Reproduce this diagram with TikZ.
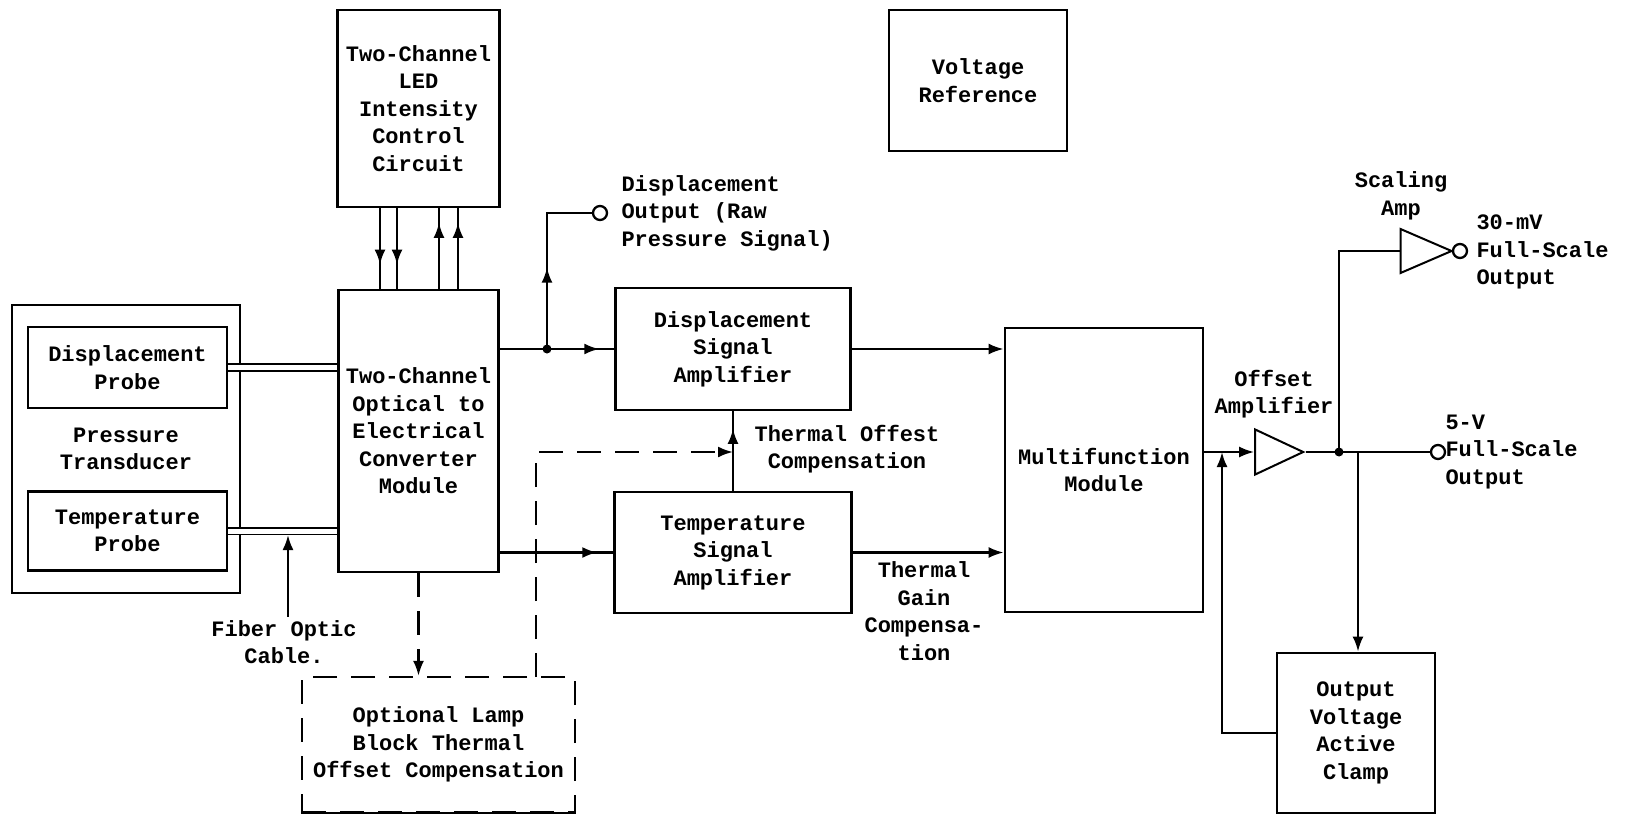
\documentclass[tikz,border=0pt]{standalone}
\usepackage{fontspec}
\setmonofont{Liberation Mono}
\usepackage{tikz}
\usetikzlibrary{arrows.meta,decorations.markings,shapes.geometric}
\newcommand{\tw}{\fontsize{22}{27.5}\selectfont\ttfamily\bfseries}
\tikzset{
  blk/.style     = {draw,line width=2.8pt,inner sep=0pt,align=center},
  sig/.style     = {line width=2.3pt},
  arr/.style     = {sig,-{Latex[length=15pt,width=11pt]}},
  arrowat/.style = {sig,postaction={decorate},
                    decoration={markings,mark=at position #1 with {\arrow{Latex[length=15pt,width=11pt]}}}},
  dsh/.style     = {sig,dash pattern=on 24pt off 14pt},
  pin/.style     = {draw,circle,line width=2.3pt,minimum size=14pt,inner sep=0pt},
  amp/.style     = {draw,isosceles triangle,isosceles triangle stretches,line width=2pt,inner sep=0pt},
  lbl/.style     = {align=center}
}
\newcommand{\dotat}[1]{\fill (#1) circle (4.5pt);}

\begin{document}
\begin{tikzpicture}[x=1pt,y=-1pt,font=\tw]
  \useasboundingbox (0,0) rectangle (1634,816);
  \node[blk,minimum width=162pt,minimum height=197pt] (led) at (418.5,108.5) {Two-Channel\\LED\\Intensity\\Control\\Circuit};
  \node[blk,minimum width=160pt,minimum height=282pt] (conv) at (418.5,431) {Two-Channel\\Optical to\\Electrical\\Converter\\Module};
  \node[blk,minimum width=228pt,minimum height=288pt] (xdcr) at (126,449) {Pressure\\Transducer};
  \node[blk,fill=white,minimum width=199pt,minimum height=81pt] (dprobe) at (127.5,367.5) {Displacement\\Probe};
  \node[blk,fill=white,minimum width=199pt,minimum height=79pt] (tprobe) at (127.5,531) {Temperature\\Probe};
  \node[blk,minimum width=235pt,minimum height=122pt] (damp) at (733,349) {Displacement\\Signal\\Amplifier};
  \node[blk,minimum width=237pt,minimum height=121pt] (tamp) at (733,552.5) {Temperature\\Signal\\Amplifier};
  \node[blk,minimum width=198pt,minimum height=284pt] (multi) at (1104,470) {Multifunction\\Module};
  \node[blk,minimum width=178pt,minimum height=141pt] (vref) at (978,80.5) {Voltage\\Reference};
  \node[blk,minimum width=158pt,minimum height=160pt] (clamp) at (1356,733) {Output\\Voltage\\Active\\Clamp};
  \node[blk,dsh,minimum width=273pt,minimum height=135pt] (lamp) at (438.5,744.5) {Optional Lamp\\Block Thermal\\Offset Compensation};
  \node[amp,minimum width=45pt,minimum height=48pt] (offamp) at (1269.5,452) {};
  \node[amp,minimum width=44pt,minimum height=51pt] (sclamp) at (1415,251) {};
  \node[pin] (dout) at (600,213) {};
  \node[pin] (mvout) at (1460,251) {};
  \node[pin] (vout) at (1438,452) {};

  \node[lbl,anchor=west,align=left] (douttxt) at (618,213) {Displacement\\Output (Raw\\Pressure Signal)};
  \node[lbl] (offtxt) at (847,449) {Thermal Offest\\Compensation};
  \node[lbl] (gaintxt) at (924,611) {Thermal\\Gain\\Compensa-\\tion};
  \node[lbl] (fibtxt) at (284,642) {Fiber Optic\\Cable.};
  \node[lbl] (offamptxt) at (1274,394) {Offset\\Amplifier};
  \node[lbl] (sclamptxt) at (1401,196) {Scaling\\Amp};
  \node[lbl,anchor=west,align=left] (mvtxt) at (1473,252) {30-mV\\Full-Scale\\Output};
  \node[lbl,anchor=west,align=left] (vtxt) at (1442,452) {5-V\\Full-Scale\\Output};

  \coordinate (fibtip) at (288,535);
  \coordinate (dj) at (547,349);
  \coordinate (tj) at (733,452);
  \coordinate (lup) at (536,677);
  \coordinate (fb) at (1222,452);
  \coordinate (j1) at (1339,452);
  \coordinate (j2) at (1358,452);

  \draw[sig] (lamp.south west) -- (lamp.south east);
  \foreach \dx in {-38.5,-21.5}
    \draw[arrowat=0.7] ([xshift=\dx pt]led.south) -- ([xshift=\dx pt]conv.north);
  \foreach \dx in {20.5,39.5}
    \draw[arrowat=0.82] ([xshift=\dx pt]conv.north) -- ([xshift=\dx pt]led.south);
  \draw[line width=1.8pt,double,double distance=5pt] (dprobe.east) -- (dprobe.east -| conv.west);
  \draw[line width=1.8pt,double,double distance=5pt] (tprobe.east) -- (tprobe.east -| conv.west);
  \draw[arr] (fibtip |- fibtxt.north) -- (fibtip);

  \draw[arrowat=0.87] (damp.west -| conv.east) -- (damp.west);
  \draw[arrowat=0.45] (dj) |- (dout.west);
  \dotat{dj}
  \draw[arrowat=0.86] (tamp.west -| conv.east) -- (tamp.west);
  \draw[arrowat=0.78] (tamp.north) -- (damp.south);
  \draw[dsh,-{Latex[length=15pt,width=11pt]}] (lup) |- (tj);
  \draw[dsh,-{Latex[length=15pt,width=11pt]}] (conv.south) -- (conv.south |- lamp.north);

  \draw[arr] (damp.east) -- (damp.east -| multi.west);
  \draw[arr] (tamp.east) -- (tamp.east -| multi.west);
  \draw[arr] (offamp.west -| multi.east) -- (offamp.west);
  \draw[arr] (clamp.west) -| (fb);
  \draw[sig] (offamp.east) -- (vout.west);
  \draw[sig] (j1) |- (sclamp.west);
  \dotat{j1}
  \draw[sig] (sclamp.east) -- (mvout.west);
  \draw[arr] (j2) -- (j2 |- clamp.north);
\end{tikzpicture}
\end{document}
